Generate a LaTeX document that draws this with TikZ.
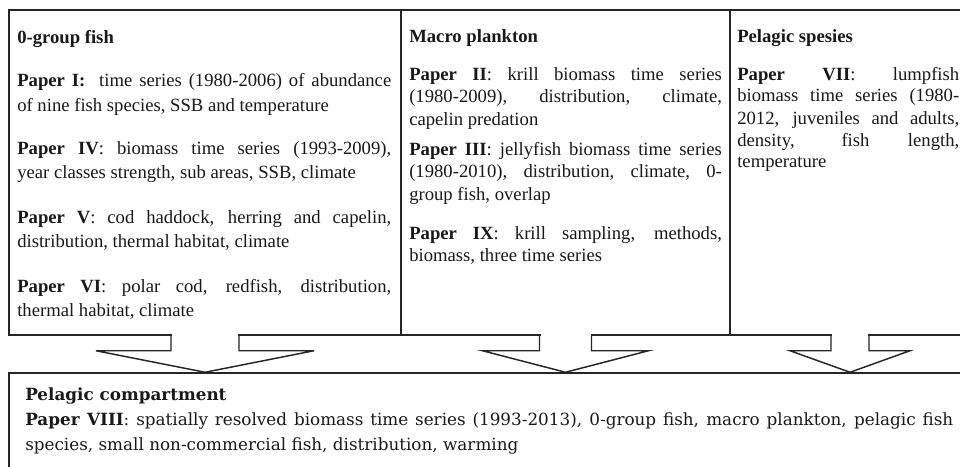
\documentclass[tikz,border=0pt]{standalone}
\usepackage{fontspec}
\setmainfont{Liberation Serif}
\newfontfamily\bottomfont{DejaVu Serif}
\usetikzlibrary{fit,calc}
\hyphenpenalty=10000
\exhyphenpenalty=10000
\tikzset{
  frame/.style={draw=black!85, line width=1.1pt, inner sep=0pt},
  para/.style={inner sep=0pt, anchor=base west, align=justify, text=black!90},
  leftcol/.style={para, text width=280.5pt, font=\fontsize{14}{18}\selectfont},
  midcol/.style={para, text width=234.5pt, font=\fontsize{14}{16.9}\selectfont},
  rightcol/.style={para, text width=166.5pt, font=\fontsize{14}{16.5}\selectfont},
  botcol/.style={para, text width=696pt, font=\bottomfont\fontsize{12.6}{18.75}\selectfont},
  headtxt/.style={para, font=\fontsize{14}{18}\selectfont\bfseries},
}
\newcommand\blkarrow[4]{% #1 box, #2 target box, #3 shaft half width, #4 head half width
  \fill[white] ($(#1.south)+(-#3+1,-3)$) rectangle ($(#1.south)+(#3-1,3)$);
  \draw[draw=black!85, line width=1.1pt, line join=miter]
    ($(#1.south)+(-#3,0)$) -- ($(#1.south)+(-#3,15)$) -- ($(#1.south)+(-#4,15)$)
    -- (#1.south |- #2.north)
    -- ($(#1.south)+(#4,15)$) -- ($(#1.south)+(#3,15)$) -- ($(#1.south)+(#3,0)$);
}
\begin{document}
\begin{tikzpicture}[x=0.75pt, y=-0.75pt]
\useasboundingbox (0,0) rectangle (960,467);
\fill[white] (0,0) rectangle (960,467);

% boxes
\node[frame, fit={(9,10) (401,335)}] (fish) {};
\node[frame, fit={(401,10) (730,335)}] (plank) {};
\node[frame, fit={(730,10) (970,335)}] (pelag) {};
\node[frame, fit={(9,373) (970,480)}] (comp) {};

% arrows
\blkarrow{fish}{comp}{34}{109}
\blkarrow{plank}{comp}{26}{83}
\blkarrow{pelag}{comp}{19}{60}

% left column
\node[headtxt] (h0) at (17,44) {0-group fish};
\node[leftcol] (p1) at (17,87) {\textbf{Paper I:}\ \ time series (1980-2006) of abundance\linebreak of nine fish species, SSB and temperature};
\node[leftcol] (p4) at (17,154) {\textbf{Paper IV}: biomass time series (1993-2009),\linebreak year classes strength, sub areas, SSB, climate};
\node[leftcol] (p5) at (17,223) {\textbf{Paper V}: cod haddock, herring and capelin,\linebreak distribution, thermal habitat, climate};
\node[leftcol] (p6) at (17,292) {\textbf{Paper VI}: polar cod, redfish, distribution,\linebreak thermal habitat, climate};

% middle column
\node[headtxt] (h1) at (409,43) {Macro plankton};
\node[midcol] (p2) at (409,80) {\textbf{Paper II}: krill biomass time series\linebreak (1980-2009), distribution, climate,\linebreak capelin predation};
\node[midcol] (p3) at (409,155) {\textbf{Paper III}: jellyfish biomass time series\linebreak (1980-2010), distribution, climate, 0-\linebreak group fish, overlap};
\node[midcol] (p9) at (409,239) {\textbf{Paper IX}: krill sampling, methods,\linebreak biomass, three time series};

% right column
\node[headtxt] (h2) at (737,43) {Pelagic spesies};
\node[rightcol] (p7) at (737,80) {\textbf{Paper VII}: lumpfish\linebreak biomass time series (1980-\linebreak 2012, juveniles and adults,\linebreak density, fish length,\linebreak temperature};

% bottom
\node[para, font=\bottomfont\fontsize{12.6}{18.75}\selectfont\bfseries] (h3) at (25,400) {Pelagic compartment};
\node[botcol] (p8) at (25,425) {\textbf{Paper VIII}: spatially resolved biomass time series (1993-2013), 0-group fish, macro plankton, pelagic fish\linebreak species, small non-commercial fish, distribution, warming};
\end{tikzpicture}
\end{document}
